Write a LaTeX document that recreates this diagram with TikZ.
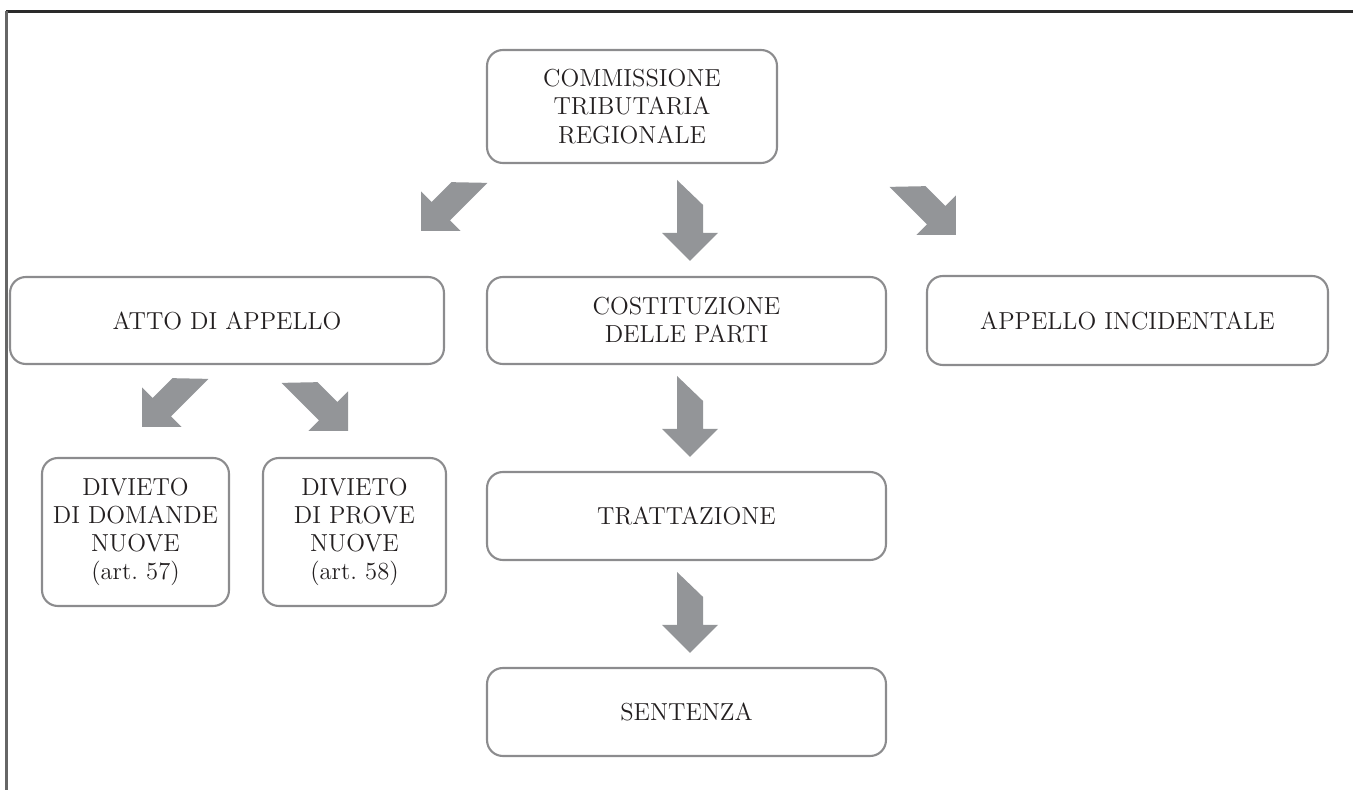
\documentclass[tikz,border=0pt]{standalone}
\usetikzlibrary{calc}

\definecolor{boxgray}{HTML}{8C8C8E}
\definecolor{arrowgray}{HTML}{939598}
\definecolor{textblack}{HTML}{231F20}
\definecolor{framedark}{HTML}{2A2A2A}
\definecolor{framegray}{HTML}{666666}

\tikzset{
  box/.style={draw=boxgray, line width=1.2pt, rounded corners=9pt,
    align=center, inner sep=0pt, text=textblack,
    font=\fontsize{14}{16}\selectfont},
  pics/blockarrow/.style={code={
    \fill[arrowgray] (-13,-81) -- (13,-56) -- (13,-28) -- (28,-28)
      -- (0,0) -- (-28,-28) -- (-13,-28) -- cycle;}}
}

\begin{document}
\begin{tikzpicture}[x=0.02cm, y=-0.02cm]
        \useasboundingbox (0,0) rectangle (1353,790);
        % frame
        \draw[framedark, line width=1.2pt] (6,11.5) -- (1353,11.5);
        \draw[framegray, line width=1.2pt] (6.5,11) -- (6.5,790);

        \node[box, minimum width=5.8cm, minimum height=2.26cm] (reg) at (632,106.5)
          {COMMISSIONE\\TRIBUTARIA\\REGIONALE};
        \node[box, minimum width=8.68cm, minimum height=1.74cm] (atto) at (227,320.5)
          {ATTO DI APPELLO};
        \node[box, minimum width=7.98cm, minimum height=1.74cm] (cost) at (686.5,320.5)
          {COSTITUZIONE\\DELLE PARTI};
        \node[box, minimum width=8.02cm, minimum height=1.78cm] (inc) at (1127.5,320.5)
          {APPELLO INCIDENTALE};
        \node[box, minimum width=3.74cm, minimum height=2.96cm] (dom) at (135.5,532)
          {DIVIETO\\DI DOMANDE\\NUOVE\\(art.~57)};
        \node[box, minimum width=3.66cm, minimum height=2.96cm] (prov) at (354.5,532)
          {DIVIETO\\DI PROVE\\NUOVE\\(art.~58)};
        \node[box, minimum width=7.98cm, minimum height=1.76cm] (tratt) at (686.5,516)
          {TRATTAZIONE};
        \node[box, minimum width=7.98cm, minimum height=1.76cm] (sent) at (686.5,712)
          {SENTENZA};

        % block arrows
        \pic at ($(cost.north)+(3.5,-15)$) {blockarrow};
        \pic at ($(tratt.north)+(3.5,-14)$) {blockarrow};
        \pic at ($(sent.north)+(3.5,-14)$) {blockarrow};
        \pic[rotate=45] at ($(inc.north west)+(30,-40)$) {blockarrow};
        \pic[xscale=-1, rotate=45] at ($(atto.north east)+(-24,-45)$) {blockarrow};
        \pic[xscale=-1, rotate=45] at ($(dom.north)+(6.5,-30)$) {blockarrow};
        \pic[rotate=45] at ($(prov.north)+(-6.5,-26)$) {blockarrow};
\end{tikzpicture}
\end{document}
